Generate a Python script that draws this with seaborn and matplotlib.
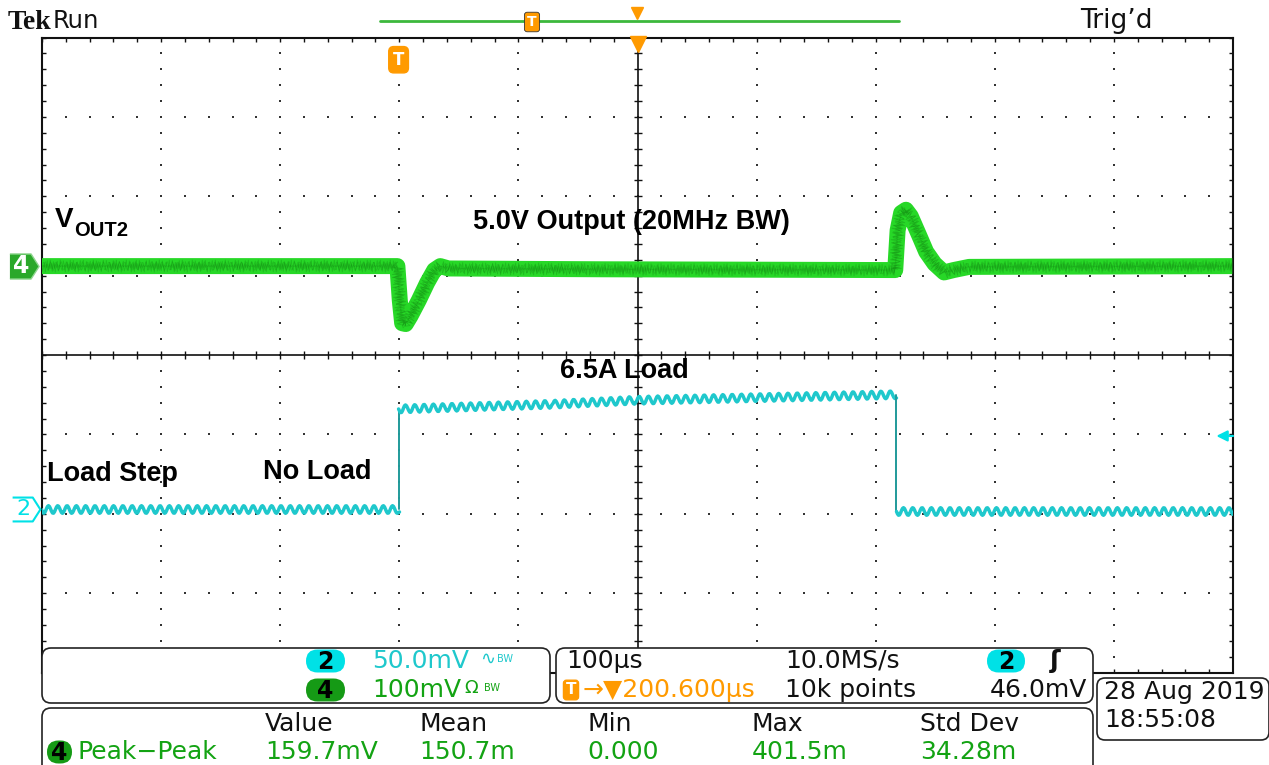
import numpy as np
import pandas as pd
import matplotlib
matplotlib.use("Agg")
import matplotlib.pyplot as plt
from matplotlib import transforms
from matplotlib.patches import FancyBboxPatch
import seaborn as sns

# horizontal: 100 us/div, trigger at t=0, screen centre 200.6 us after the trigger
t_per_div = 100.0
t_centre = 200.6

# CH4 = V_OUT2, 100 mV/div, trace parked 1.12 div above centre
ch4_scale = 100.0
ch4_pos = 1.12
ch4_t = [-300, -1, 1, 3, 6, 10, 17, 24, 30, 35, 42, 170, 417, 419, 422, 426, 430, 437, 443, 450, 458, 466, 479, 700]
ch4_mv = [0, 0, -43, -72, -73, -63, -43, -21, -5, 0, -3, -4, -5, 45, 67, 71, 63, 39, 18, 3, -8, -5, -1, 0]

# CH2 = load step, 50 mV/div, parked 1.94 div below centre
ch2_scale = 50.0
ch2_pos = -1.94
ch2_t = [-300, 0, 0, 130, 200, 418, 418, 700]
ch2_mv = [0, 0, 63, 66, 68.5, 72, -1.5, -1.5]
trig_level_mv = 46.0

# readouts
ch_settings = [("2", "50.0mV", "\u223f"), ("4", "100mV", "\u03a9")]
meas_cols = ["Value", "Mean", "Min", "Max", "Std Dev"]
meas_vals = ["159.7mV", "150.7m", "0.000", "401.5m", "34.28m"]

GREEN = "#27d827"
DKGREEN = "#0c700c"
TXTGREEN = "#13a313"
CYAN = "#1fc8cc"
PILLCYAN = "#00e1e6"
ORANGE = "#ff9a00"

sns.set_theme(style="white")
plt.rcParams["font.family"] = ["DejaVu Sans"]

W, H = 1269, 765
fig = plt.figure(figsize=(W / 100, H / 100), dpi=100)
fig.patch.set_facecolor("white")

# graticule area in pixels
gl, gr, gt, gb = 42, 1233, 37.5, 672.5
ax = fig.add_axes([gl / W, 1 - gb / H, (gr - gl) / W, (gb - gt) / H])
x0 = t_centre - 5 * t_per_div
x1 = t_centre + 5 * t_per_div
ax.set_xlim(x0, x1)
ax.set_ylim(-4, 4)
ax.set_xticks([])
ax.set_yticks([])
ax.set_facecolor("white")
for s in ax.spines.values():
    s.set_color("#111111")
    s.set_linewidth(1.5)

# dotted graticule
xmaj = x0 + t_per_div * np.arange(1, 10)
xmin = x0 + t_per_div * np.arange(0, 50.5) / 5
ymaj = np.arange(-3, 4)
ymin = np.arange(-20, 21) / 5
dots = []
for xm in xmaj:
    if abs(xm - t_centre) > 1:
        dots += [(xm, y) for y in ymin]
for ym in ymaj:
    if ym != 0:
        dots += [(x, ym) for x in xmin]
dots = pd.DataFrame(dots, columns=["x", "y"])
sns.scatterplot(data=dots, x="x", y="y", ax=ax, s=3, color="#333333", marker="s", linewidth=0, zorder=1)
ax.axhline(0, color="#111111", lw=1.2, zorder=1)
ax.axvline(t_centre, color="#111111", lw=1.2, zorder=1)
ax.scatter(xmin, np.zeros_like(xmin), marker="|", s=30, color="#111111", lw=1, zorder=1)
ax.scatter(np.full_like(ymin, t_centre), ymin, marker="_", s=30, color="#111111", lw=1, zorder=1)
ax.scatter(xmin, np.full_like(xmin, 4.0), marker="|", s=40, color="#111111", lw=1, zorder=1)
ax.scatter(xmin, np.full_like(xmin, -4.0), marker="|", s=40, color="#111111", lw=1, zorder=1)
ax.scatter(np.full_like(ymin, x0), ymin, marker="_", s=40, color="#111111", lw=1, zorder=1)
ax.scatter(np.full_like(ymin, x1), ymin, marker="_", s=40, color="#111111", lw=1, zorder=1)

# CH4 trace: wide noise band plus a darker speckled core
df4 = pd.DataFrame({"t": ch4_t, "div": ch4_pos + np.array(ch4_mv) / ch4_scale})
sns.lineplot(data=df4, x="t", y="div", ax=ax, sort=False, estimator=None, color=GREEN, lw=11.5,
             solid_joinstyle="round", solid_capstyle="butt", zorder=3)
for amp, per, al in [(6.0, 3.3, 0.28), (4.5, 5.3, 0.22), (2.5, 2.1, 0.25)]:
    sns.lineplot(data=df4, x="t", y="div", ax=ax, sort=False, estimator=None, color=DKGREEN, lw=0.6,
                 alpha=al, zorder=4)
    ax.lines[-1].set_sketch_params(amp, per, 1)

# CH2 trace: switching ripple on the flat parts, clean edges on the steps
df2 = pd.DataFrame({"t": ch2_t, "div": ch2_pos + np.array(ch2_mv) / ch2_scale})
start = 0
for i in range(len(ch2_t) - 1):
    if ch2_t[i] == ch2_t[i + 1]:
        sns.lineplot(data=df2.iloc[start:i + 1], x="t", y="div", ax=ax, sort=False, estimator=None,
                     color=CYAN, lw=2.5, zorder=5)
        ax.lines[-1].set_sketch_params(3.8, 9.3, 1)
        sns.lineplot(data=df2.iloc[i:i + 2], x="t", y="div", ax=ax, sort=False, estimator=None,
                     color="#209a9a", lw=1.4, zorder=5)
        start = i + 1
sns.lineplot(data=df2.iloc[start:], x="t", y="div", ax=ax, sort=False, estimator=None,
             color=CYAN, lw=2.5, zorder=5)
ax.lines[-1].set_sketch_params(3.8, 9.3, 1)

# trigger level arrow at the right edge
trig_y = ch2_pos + trig_level_mv / ch2_scale
ax.annotate("", xy=(x1 - 0.14 * t_per_div, trig_y), xytext=(x1, trig_y),
            arrowprops=dict(arrowstyle="-|>", color=PILLCYAN, lw=1.6, mutation_scale=16,
                            shrinkA=0, shrinkB=0), zorder=6)

# trigger position and expansion markers
top = transforms.blended_transform_factory(ax.transData, ax.transAxes)
ax.text(0, 0.965, "T", transform=top, ha="center", va="center", color="white", fontsize=12,
        fontweight="bold", bbox=dict(boxstyle="round,pad=0.25,rounding_size=0.3", fc=ORANGE, ec=ORANGE),
        zorder=7)
ax.plot([t_centre], [0.99], transform=top, marker="v", ms=12, color=ORANGE, clip_on=False, zorder=7)

# overlay for everything outside the graticule, in screen pixels
ov = fig.add_axes([0, 0, 1, 1])
ov.set_xlim(0, W)
ov.set_ylim(H, 0)
ov.axis("off")
ov.patch.set_alpha(0)

ov.text(8, 22, "Tek", fontsize=20, fontweight="bold", family=["Liberation Serif"], va="center", color="#111111")
ov.text(53, 21, "Run", fontsize=17.5, va="center", color="#111111")
ov.text(1080, 21, "Trig\u2019d", fontsize=19, va="center", color="#111111")
ov.plot([380, 899], [21, 21], color="#3cb83c", lw=2)
ov.text(532, 22, "T", ha="center", va="center", color="white", fontsize=10, fontweight="bold",
        bbox=dict(boxstyle="round,pad=0.2,rounding_size=0.2", fc=ORANGE, ec="#333333", lw=0.6))
ov.plot([637], [13], marker="v", ms=8, color=ORANGE)

# channel ground markers on the left
side = transforms.blended_transform_factory(ov.transData, ax.transData)
tag = [(-1, -0.86), (0.45, -0.86), (1, 0), (0.45, 0.86), (-1, 0.86)]
ax.plot([24], [ch4_pos], transform=side, marker=tag, ms=21, mfc="#2aa82a", mec="#8fd68f", mew=1,
        clip_on=False, zorder=8)
ax.text(21, ch4_pos, "4", transform=side, ha="center", va="center", color="white", fontsize=17,
        fontweight="bold", zorder=9)
ax.plot([26], [ch2_pos], transform=side, marker=tag, ms=20, mfc="white", mec=PILLCYAN, mew=1.5,
        clip_on=False, zorder=8)
ax.text(23, ch2_pos, "2", transform=side, ha="center", va="center", color=PILLCYAN, fontsize=16, zorder=9)

# annotations
lab = dict(family=["Liberation Sans"], fontweight="bold", color="black", fontsize=19.5, va="center")
ov.text(55, 220, "V", **{**lab, "fontsize": 20})
ov.text(74, 230, "OUT2", **{**lab, "fontsize": 14.5})
ov.text(473, 222, "5.0V Output (20MHz BW)", **lab)
ov.text(560, 371, "6.5A Load", **lab)
ov.text(47, 474, "Load Step", **lab)
ov.text(263, 472, "No Load", **lab)


def box(x, y, w, h, r=9):
    ov.add_patch(FancyBboxPatch((x, y), w, h, boxstyle=f"round,pad=0,rounding_size={r}",
                                fc="white", ec="#222222", lw=1.2, clip_on=False))


def pill(x, y, w, h, fc, label):
    ov.add_patch(FancyBboxPatch((x, y - h / 2), w, h, boxstyle=f"round,pad=0,rounding_size={h / 2}",
                                fc=fc, ec="none"))
    ov.text(x + w / 2, y + 1, label, ha="center", va="center", fontsize=17, fontweight="bold",
            color="black")


fs = 18
box(42, 648, 508, 55)
box(556, 648, 537, 55)
box(42, 708, 1051, 70)
box(1097, 678, 172, 62, r=8)

rows = [661, 690]
for (ch, volts, sym), ry, col, pc in zip(ch_settings, rows, [CYAN, TXTGREEN], [PILLCYAN, "#159a15"]):
    pill(306, ry, 39, 23, pc, ch)
    ov.text(372, ry, volts, fontsize=fs, color=col, va="center")
    ov.text(480 if ch == "2" else 464, ry - 2, sym, fontsize=13, color=col, va="center")
    ov.text(497 if ch == "2" else 484, ry - 2, "BW", fontsize=7, color=col, va="center")

ov.text(566, 661, "100\u00b5s", fontsize=fs, va="center", color="#111111")
ov.text(785, 661, "10.0MS/s", fontsize=fs, va="center", color="#111111")
pill(987, 661, 38, 23, PILLCYAN, "2")
ov.text(1050, 661, "\u0283", fontsize=18, fontweight="bold", va="center", color="#111111")
ov.text(571, 690, "T", ha="center", va="center", color="white", fontsize=11, fontweight="bold",
        bbox=dict(boxstyle="round,pad=0.15,rounding_size=0.2", fc=ORANGE, ec=ORANGE))
ov.text(583, 690, "\u2192\u25bc200.600\u00b5s", fontsize=fs, va="center", color=ORANGE)
ov.text(785, 690, "10k points", fontsize=fs, va="center", color="#111111")
ov.text(1087, 690, "46.0mV", fontsize=fs, va="center", ha="right", color="#111111")

col_x = [265, 419, 587, 752, 920]
for cx, name, val in zip(col_x, meas_cols, meas_vals):
    ov.text(cx, 724, name, fontsize=fs, va="center", color="#111111")
    ov.text(cx, 752, val, fontsize=fs, va="center", color=TXTGREEN)
pill(47, 752, 25, 23, "#159a15", "4")
ov.text(77, 752, "Peak\u2212Peak", fontsize=fs, va="center", color=TXTGREEN)

ov.text(1104, 692, "28 Aug 2019", fontsize=fs, va="center", color="#111111")
ov.text(1104, 720, "18:55:08", fontsize=fs, va="center", color="#111111")

fig.savefig("out.png", dpi=100, facecolor="white")
